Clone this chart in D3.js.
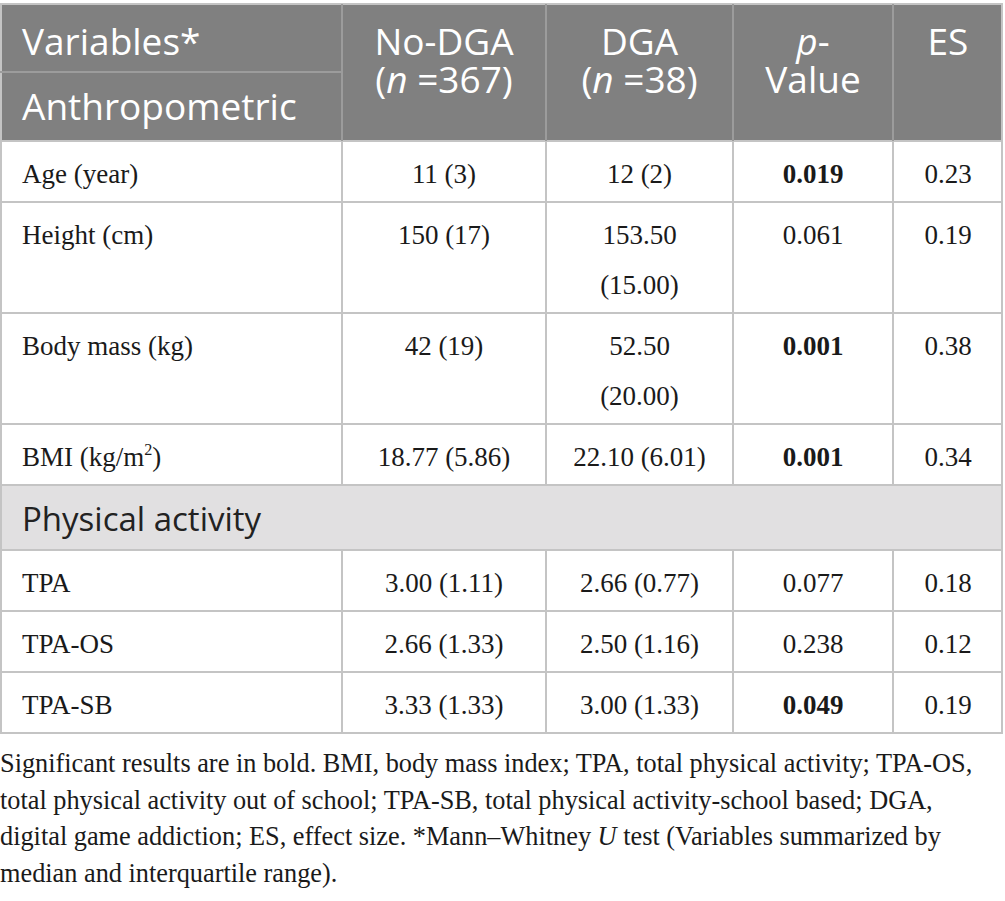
<!DOCTYPE html>
<html>
<head>
<meta charset="utf-8">
<script src="https://cdn.jsdelivr.net/npm/d3@7"></script>
<style>
  body { margin: 0; background: #fff; }
  .head { font-family: "Open Sans", sans-serif; }
  .cell { font-family: "Liberation Serif", serif; }
</style>
</head>
<body>
<div id="table"></div>
<script>
// table content
var headerLines = [
    ["Variables*"],
    ["No-DGA", "(|n| =367)"],
    ["DGA", "(|n| =38)"],
    ["|p|-", "Value"],
    ["ES"]
];
var sections = ["Anthropometric", "Physical activity"];
var sectionOf = [0, 0, 0, 0, 1, 1, 1];
var variables = ["Age (year)", "Height (cm)", "Body mass (kg)", "BMI (kg/m^2^)", "TPA", "TPA-OS", "TPA-SB"];
var noDga = ["11 (3)", "150 (17)", "42 (19)", "18.77 (5.86)", "3.00 (1.11)", "2.66 (1.33)", "3.33 (1.33)"];
var dga = ["12 (2)", "153.50 (15.00)", "52.50 (20.00)", "22.10 (6.01)", "2.66 (0.77)", "2.50 (1.16)", "3.00 (1.33)"];
var pValues = ["0.019", "0.061", "0.001", "0.001", "0.077", "0.238", "0.049"];
var effectSizes = ["0.23", "0.19", "0.38", "0.34", "0.18", "0.12", "0.19"];
var footnote = [
    "Significant results are in bold. BMI, body mass index; TPA, total physical activity; TPA-OS,",
    "total physical activity out of school; TPA-SB, total physical activity-school based; DGA,",
    "digital game addiction; ES, effect size. *Mann\u2013Whitney |U| test (Variables summarized by",
    "median and interquartile range)."
];

var width = 1005, height = 901;
var colWidths = [342, 204, 187, 160, 110];
var colEdges = [0].concat(Array.from(d3.cumsum(colWidths)));
var top0 = 4, headerH = 137, headerSplit = 68;
var rowH = 61, extraLine = 50, sectionH = 65;
var bodySize = 27, headSize = 37, sectionSize = 33;

var svg = d3.select("#table").append("svg")
    .attr("width", width)
    .attr("height", height);

// measure helper for wrapping the value cells
var measure = svg.append("text").attr("class", "cell")
    .attr("font-size", bodySize).attr("visibility", "hidden");
function textWidth(s) {
    measure.text(s);
    return measure.node().getComputedTextLength();
}
function wrap(s, maxW) {
    if (textWidth(s) <= maxW) return [s];
    var i = s.lastIndexOf(" ");
    return [s.slice(0, i), s.slice(i + 1)];
}

// segments: |..| italic, ^..^ superscript
function addRich(sel, str) {
    var parts = str.split(/(\|[^|]*\||\^[^^]*\^)/);
    var back = 0;
    parts.forEach(function(p) {
        if (!p) return;
        var ts;
        if (p[0] === "|") {
            ts = sel.append("tspan").attr("font-style", "italic").text(p.slice(1, -1));
        } else if (p[0] === "^") {
            ts = sel.append("tspan").attr("font-size", bodySize * 0.6)
                .attr("dy", -11 + back).text(p.slice(1, -1));
            back = 11;
            return;
        } else {
            ts = sel.append("tspan").text(p);
        }
        if (back) { ts.attr("dy", back); back = 0; }
    });
}

// build rows
var rows = [];
var y = top0 + headerH;
variables.forEach(function(v, i) {
    if (i > 0 && sectionOf[i] !== sectionOf[i - 1]) {
        rows.push({type: "section", label: sections[sectionOf[i]], y: y, h: sectionH});
        y += sectionH;
    }
    var cells = [
        [v],
        wrap(noDga[i], colWidths[1] - 47),
        wrap(dga[i], colWidths[2] - 47),
        [pValues[i]],
        [effectSizes[i]]
    ];
    var nLines = d3.max(cells, function(c) { return c.length; });
    var h = rowH + (nLines - 1) * extraLine;
    rows.push({type: "data", cells: cells, bold: +pValues[i] < 0.05, y: y, h: h});
    y += h;
});
var tableBottom = y;
var right = colEdges[colEdges.length - 1];

// header background
svg.append("rect")
    .attr("x", 0).attr("y", top0)
    .attr("width", right).attr("height", headerH)
    .attr("fill", "#808080");

// section backgrounds
svg.selectAll("rect.section")
    .data(rows.filter(function(r) { return r.type === "section"; }))
    .enter().append("rect")
    .attr("class", "section")
    .attr("x", 0).attr("y", function(d) { return d.y; })
    .attr("width", right).attr("height", function(d) { return d.h; })
    .attr("fill", "#e1e0e1");

// grid lines
var grid = svg.append("g").attr("stroke", "#c4c4c4").attr("stroke-width", 2);
var hLines = [top0, top0 + headerH].concat(rows.map(function(r) { return r.y + r.h; }));
grid.selectAll("line.h")
    .data(hLines)
    .enter().append("line")
    .attr("x1", 0).attr("x2", right)
    .attr("y1", function(d) { return d; }).attr("y2", function(d) { return d; });

// vertical lines, broken by section rows
var segs = [];
colEdges.forEach(function(x, ci) {
    var outer = ci === 0 || ci === colEdges.length - 1;
    var x0 = ci === 0 ? 1 : (ci === colEdges.length - 1 ? x - 1 : x);
    segs.push({x: x0, y1: top0, y2: top0 + headerH, head: !outer});
    rows.forEach(function(r) {
        if (r.type === "data" || outer) {
            segs.push({x: x0, y1: r.y, y2: r.y + r.h, head: false});
        }
    });
});
grid.selectAll("line.v")
    .data(segs)
    .enter().append("line")
    .attr("x1", function(d) { return d.x; }).attr("x2", function(d) { return d.x; })
    .attr("y1", function(d) { return d.y1; }).attr("y2", function(d) { return d.y2; })
    .attr("stroke", function(d) { return d.head ? "#9c9c9c" : null; });

// header split line in first column
svg.append("line")
    .attr("x1", 0).attr("x2", colEdges[1])
    .attr("y1", top0 + headerSplit).attr("y2", top0 + headerSplit)
    .attr("stroke", "#9c9c9c").attr("stroke-width", 2);

// header text
headerLines.forEach(function(lines, ci) {
    lines.forEach(function(l, li) {
        var t = svg.append("text").attr("class", "head")
            .attr("font-size", headSize)
            .attr("fill", "#fff")
            .attr("x", ci === 0 ? 22 : (colEdges[ci] + colEdges[ci + 1]) / 2)
            .attr("y", top0 + 51 + li * 38)
            .attr("text-anchor", ci === 0 ? "start" : "middle");
        addRich(t, l);
    });
});
svg.append("text").attr("class", "head")
    .attr("font-size", headSize).attr("fill", "#fff")
    .attr("x", 22).attr("y", top0 + headerSplit + 48)
    .text(sections[0]);

// section labels
svg.selectAll("text.sectionLabel")
    .data(rows.filter(function(r) { return r.type === "section"; }))
    .enter().append("text")
    .attr("class", "head sectionLabel")
    .attr("font-size", sectionSize).attr("fill", "#222")
    .attr("x", 22).attr("y", function(d) { return d.y + 46; })
    .text(function(d) { return d.label; });

// data cells
rows.filter(function(r) { return r.type === "data"; }).forEach(function(r) {
    r.cells.forEach(function(lines, ci) {
        lines.forEach(function(l, li) {
            var t = svg.append("text").attr("class", "cell")
                .attr("font-size", bodySize).attr("fill", "#1a1a1a")
                .attr("x", ci === 0 ? 22 : (colEdges[ci] + colEdges[ci + 1]) / 2)
                .attr("y", r.y + 42 + li * extraLine)
                .attr("text-anchor", ci === 0 ? "start" : "middle")
                .attr("font-weight", ci === 3 && r.bold ? "bold" : null);
            addRich(t, l);
        });
    });
});

// footnote
footnote.forEach(function(l, i) {
    var t = svg.append("text").attr("class", "cell")
        .attr("font-size", 26.3).attr("fill", "#1a1a1a")
        .attr("x", 0).attr("y", tableBottom + 39 + i * 36.7);
    addRich(t, l);
});
measure.remove();
</script>
</body>
</html>
